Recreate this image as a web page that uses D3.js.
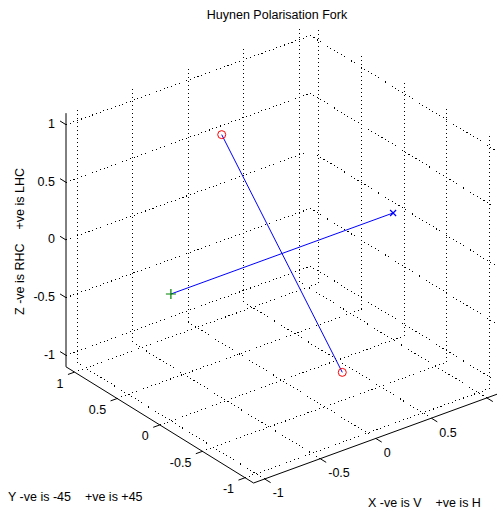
<!DOCTYPE html>
<html>
<head>
<meta charset="utf-8">
<script src="https://cdn.jsdelivr.net/npm/d3@7"></script>
<style>
  html, body { margin: 0; padding: 0; background: #fff; }
  svg { display: block; font-family: "Liberation Sans", Arial, sans-serif; }
  .grid { stroke: #000; stroke-width: 1; stroke-dasharray: 1 3; fill: none; shape-rendering: crispEdges; }
  .axis-line, .tick { stroke: #000; stroke-width: 1; fill: none; }
  text { font-size: 12.5px; fill: #000; white-space: pre; }
</style>
</head>
<body>
<svg id="chart" width="497" height="510"></svg>
<script>
// ── Labels ──
const chartTitle = "Huynen Polarisation Fork";
const xAxisLabel = "X -ve is V    +ve is H";
const yAxisLabel = "Y -ve is -45    +ve is +45";
const zAxisLabel = "Z -ve is RHC    +ve is LHC";

// ── Axes (same limits / ticks on X, Y, Z) ──
const axisLimits = [-1.1, 1.1];
const tickValues = [-1, -0.5, 0, 0.5, 1];
const tickLabels = ["-1", "-0.5", "0", "0.5", "1"];

// ── Fork points on the Poincaré sphere ──
// co-pol nulls (red circles)
const copolX = [0, 0];
const copolY = [0.7071, -0.7071];
const copolZ = [0.7071, -0.7071];
// cross-pol nulls (green + then blue x)
const xpolX = [-1, 1];
const xpolY = [0, 0];
const xpolZ = [0, 0];

// ── View: MATLAB default 3-D view (az -37.5, el 30) ──
const W = 497, H = 510;
const az = -37.5 * Math.PI / 180;
const el = 30 * Math.PI / 180;

const svg = d3.select("#chart");
const box = d3.scaleLinear().domain(axisLimits).range([-1, 1]);

function view(x, y, z) {
  const bx = box(x), by = box(y), bz = box(z);
  return [
    Math.cos(az) * bx + Math.sin(az) * by,
    -Math.sin(el) * Math.sin(az) * bx + Math.sin(el) * Math.cos(az) * by + Math.cos(el) * bz
  ];
}

const [lo, hi] = axisLimits;
const corners = [];
[lo, hi].forEach(x => [lo, hi].forEach(y => [lo, hi].forEach(z => corners.push(view(x, y, z)))));

// stretch-to-fill plot box
const sx = d3.scaleLinear().domain(d3.extent(corners, c => c[0])).range([66, 498]);
const sy = d3.scaleLinear().domain(d3.extent(corners, c => c[1])).range([483, 24]);

function proj(x, y, z) {
  const v = view(x, y, z);
  return [sx(v[0]), sy(v[1])];
}

const line = d3.line();

// ── Grid on the three back planes ──
const gridSegs = [];
tickValues.forEach(t => {
  // y = max wall
  gridSegs.push([proj(t, hi, lo), proj(t, hi, hi)]);
  gridSegs.push([proj(lo, hi, t), proj(hi, hi, t)]);
  // x = max wall
  gridSegs.push([proj(hi, t, lo), proj(hi, t, hi)]);
  gridSegs.push([proj(hi, lo, t), proj(hi, hi, t)]);
  // floor
  gridSegs.push([proj(t, lo, lo), proj(t, hi, lo)]);
  gridSegs.push([proj(lo, t, lo), proj(hi, t, lo)]);
});

svg.append("g").selectAll("path")
  .data(gridSegs)
  .join("path")
  .attr("class", "grid")
  .attr("d", line);

// ── Axis lines ──
const axisSegs = [
  [proj(lo, lo, lo), proj(hi, lo, lo)],   // X
  [proj(lo, lo, lo), proj(lo, hi, lo)],   // Y
  [proj(lo, hi, lo), proj(lo, hi, hi)]    // Z
];
svg.append("g").selectAll("path")
  .data(axisSegs)
  .join("path")
  .attr("class", "axis-line")
  .attr("d", line);

// ── Ticks + tick labels ──
const tickLen = 7;
function towards(p, q, len) {
  const dx = q[0] - p[0], dy = q[1] - p[1], l = Math.hypot(dx, dy);
  return [p[0] + dx / l * len, p[1] + dy / l * len];
}

const tg = svg.append("g");
tickValues.forEach((t, i) => {
  // X axis: ticks point along -y
  let p = proj(t, lo, lo);
  tg.append("path").attr("class", "tick").attr("d", line([p, towards(p, proj(t, lo - 1, lo), tickLen)]));
  // label past the right edge is clipped away in the original
  if (p[0] + 8 < W - 12) {
    tg.append("text").attr("x", p[0] + 8).attr("y", p[1] + 18.5).text(tickLabels[i]);
  }

  // Y axis: ticks point along -x
  p = proj(lo, t, lo);
  tg.append("path").attr("class", "tick").attr("d", line([p, towards(p, proj(lo - 1, t, lo), tickLen)]));
  tg.append("text").attr("x", p[0] - 11).attr("y", p[1] + 15.5)
    .attr("text-anchor", "end").text(tickLabels[i]);

  // Z axis: ticks point along +y
  p = proj(lo, hi, t);
  tg.append("path").attr("class", "tick").attr("d", line([p, towards(p, proj(lo, hi + 1, t), tickLen)]));
  tg.append("text").attr("x", p[0] - 11).attr("y", p[1] + 3.5)
    .attr("text-anchor", "end").text(tickLabels[i]);
});

// ── Fork lines ──
const copolPts = copolX.map((x, i) => proj(x, copolY[i], copolZ[i]));
const xpolPts = xpolX.map((x, i) => proj(x, xpolY[i], xpolZ[i]));

svg.append("path").attr("d", line(copolPts))
  .attr("fill", "none").attr("stroke", "#0000ff").attr("stroke-width", 1);
svg.append("path").attr("d", line(xpolPts))
  .attr("fill", "none").attr("stroke", "#0000ff").attr("stroke-width", 1);

// ── Markers ──
svg.append("g").selectAll("circle")
  .data(copolPts)
  .join("circle")
  .attr("cx", d => d[0])
  .attr("cy", d => d[1])
  .attr("r", 4)
  .attr("fill", "none")
  .attr("stroke", "#ff0000");

function plusPath([x, y], s) {
  const p = d3.path();
  p.moveTo(x - s, y); p.lineTo(x + s, y);
  p.moveTo(x, y - s); p.lineTo(x, y + s);
  return p.toString();
}
function crossPath([x, y], s) {
  const p = d3.path();
  p.moveTo(x - s, y - s); p.lineTo(x + s, y + s);
  p.moveTo(x - s, y + s); p.lineTo(x + s, y - s);
  return p.toString();
}

svg.append("path").attr("d", plusPath(xpolPts[0], 5))
  .attr("fill", "none").attr("stroke", "#008000").attr("stroke-width", 1.2);
svg.append("path").attr("d", crossPath(xpolPts[1], 3))
  .attr("fill", "none").attr("stroke", "#0000ff").attr("stroke-width", 1.2);

// ── Title and axis labels ──
svg.append("text").attr("x", 277).attr("y", 19)
  .attr("text-anchor", "middle").text(chartTitle);

svg.append("text").attr("x", 368).attr("y", 507).text(xAxisLabel);
svg.append("text").attr("x", 8).attr("y", 501).text(yAxisLabel);
svg.append("text")
  .attr("transform", "translate(24,241.5) rotate(-90)")
  .attr("text-anchor", "middle")
  .text(zAxisLabel);
</script>
</body>
</html>
